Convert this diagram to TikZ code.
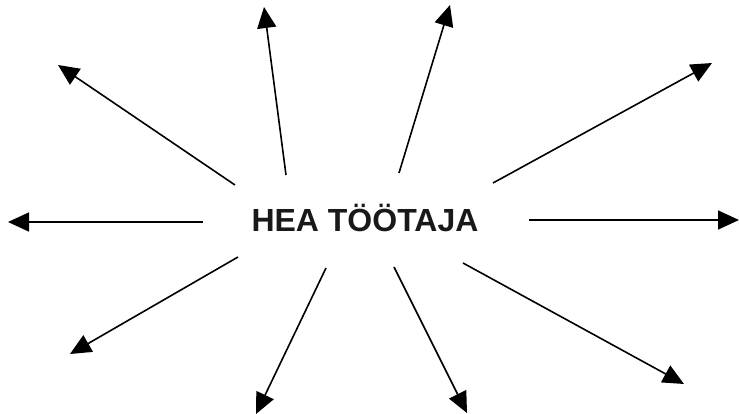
\documentclass[tikz,border=0pt]{standalone}
\usepackage{fontspec}
\setmainfont{Liberation Sans}
\usetikzlibrary{arrows.meta}
\begin{document}
\begin{tikzpicture}[x=1pt,y=-1pt,
  ray/.style={line width=1.6pt,-{Triangle[length=21pt,width=19pt]}},
  title/.style={font=\fontsize{32}{36}\selectfont\bfseries,text=black!90,inner sep=0pt,anchor=base}]
\useasboundingbox (0,0) rectangle (739,414);
\node[title] (c) at (365,232) {HEA TÖÖTAJA};
\coordinate (s1) at (235,185); \coordinate (t1) at (58,65);
\coordinate (s2) at (286,175); \coordinate (t2) at (264,7);
\coordinate (s3) at (399,173); \coordinate (t3) at (450,5);
\coordinate (s4) at (493,183); \coordinate (t4) at (712,63);
\coordinate (s5) at (203,222); \coordinate (t5) at (8,222);
\coordinate (s6) at (529,220); \coordinate (t6) at (739,220);
\coordinate (s7) at (238,257); \coordinate (t7) at (70,354);
\coordinate (s8) at (326,268); \coordinate (t8) at (256,414);
\coordinate (s9) at (394,267); \coordinate (t9) at (467,413);
\coordinate (s10) at (463,263); \coordinate (t10) at (684,384);
\foreach \i in {1,...,10} \draw[ray] (s\i) -- (t\i);
\end{tikzpicture}
\end{document}
